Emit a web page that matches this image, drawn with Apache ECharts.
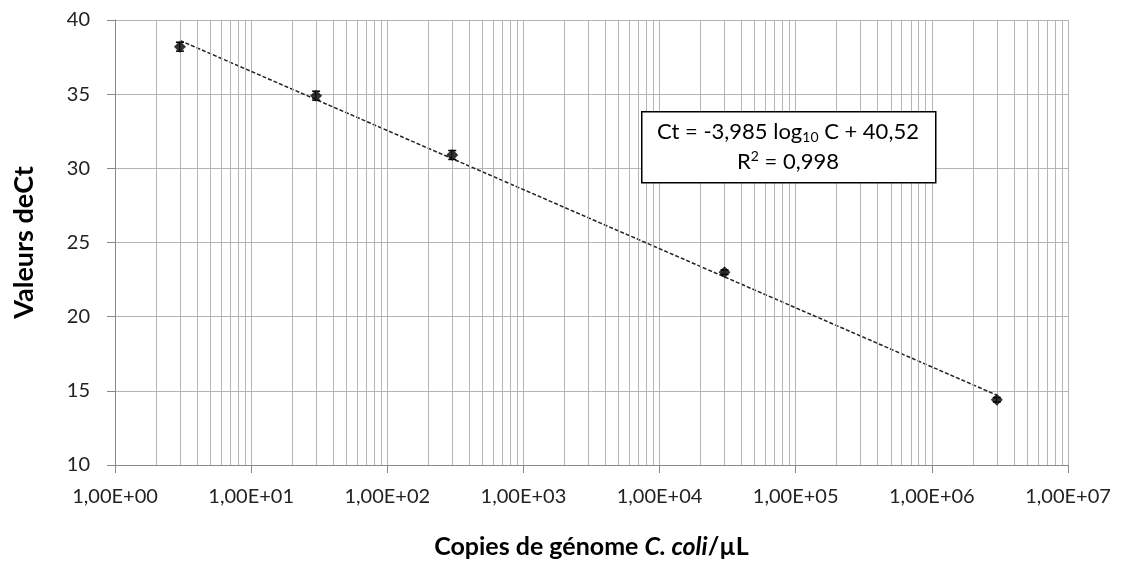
<!DOCTYPE html>
<html>
<head>
<meta charset="utf-8">
<script src="https://cdn.jsdelivr.net/npm/echarts@6/dist/echarts.min.js"></script>
<style>
  html, body { margin: 0; padding: 0; background: #fff; }
  #chart { width: 1122px; height: 566px; }
</style>
</head>
<body>
<div id="chart"></div>
<script>
// données
var copies = [3, 30, 300, 30000, 3000000];
var ctValues = [38.2, 34.9, 30.9, 23.0, 14.4];
var ctErrors = [0.3, 0.3, 0.3, 0.15, 0.15];

// droite de régression (extrémités)
var fitX = [3, 3000000];
var fitY = [38.62, 14.71];

var decades = [1, 10, 100, 1000, 10000, 100000, 1000000];
var minorSteps = [2, 3, 4, 5, 6, 7, 8, 9];

var gridColor = "#b4b4b4";
var fontName = "Lato, 'Open Sans', sans-serif";

function initChart() {
    var myChart = echarts.init(document.getElementById("chart"));

    var pointData = [];
    var errData = [];
    for (var i = 0; i < copies.length; i++) {
        pointData.push([copies[i], ctValues[i]]);
        errData.push([copies[i], ctValues[i] - ctErrors[i], ctValues[i] + ctErrors[i]]);
    }
    var fitData = [];
    for (var j = 0; j < fitX.length; j++) {
        fitData.push([fitX[j], fitY[j]]);
    }
    var minorLines = [];
    decades.forEach(function (d) {
        minorSteps.forEach(function (k) {
            minorLines.push({xAxis: d * k});
        });
    });

    var option = {
        animation: false,
        textStyle: {fontFamily: fontName},
        grid: {
            left: 115,
            right: 54,
            top: 20,
            bottom: 101
        },
        xAxis: {
            type: 'log',
            logBase: 10,
            min: 1,
            max: 10000000,
            interval: 1,
            name: '{b|Copies de génome }{bi|C. coli}{b|/µL}',
            nameLocation: 'middle',
            nameGap: 69,
            nameTextStyle: {
                rich: {
                    b: {fontSize: 25, fontWeight: 'bold', color: '#000', fontFamily: fontName},
                    bi: {fontSize: 25, fontWeight: 'bold', fontStyle: 'italic', color: '#000', fontFamily: fontName}
                }
            },
            axisLine: {lineStyle: {color: '#888', width: 1}},
            axisTick: {show: true, length: 8, lineStyle: {color: '#888'}},
            axisLabel: {
                fontSize: 20,
                color: '#222',
                margin: 22,
                formatter: function (v) {
                    var e = Math.round(Math.log(v) / Math.LN10);
                    return '1,00E+' + (e < 10 ? '0' + e : e);
                }
            },
            splitLine: {show: true, lineStyle: {color: gridColor, width: 1}}
        },
        yAxis: {
            type: 'value',
            min: 10,
            max: 40,
            interval: 5,
            name: 'Valeurs deCt',
            nameLocation: 'middle',
            nameGap: 77,
            nameTextStyle: {fontSize: 27, fontWeight: 'bold', color: '#000'},
            axisLine: {show: true, lineStyle: {color: '#888', width: 1}},
            axisTick: {show: true, length: 8, lineStyle: {color: '#888'}},
            axisLabel: {fontSize: 20, color: '#222', margin: 25},
            splitLine: {show: true, lineStyle: {color: gridColor, width: 1}}
        },
        series: [
            {
                name: 'minor',
                type: 'line',
                data: [],
                silent: true,
                markLine: {
                    silent: true,
                    symbol: 'none',
                    label: {show: false},
                    lineStyle: {color: gridColor, type: 'solid', width: 1},
                    data: minorLines
                },
                z: 1
            },
            {
                name: 'fit',
                type: 'line',
                data: fitData,
                symbol: 'none',
                lineStyle: {color: '#222', type: [4, 2], width: 1.5},
                z: 3
            },
            {
                name: 'err',
                type: 'custom',
                data: errData,
                renderItem: function (params, api) {
                    var x = api.value(0);
                    var lo = api.coord([x, api.value(1)]);
                    var hi = api.coord([x, api.value(2)]);
                    var w = 4;
                    var style = {stroke: '#000', lineWidth: 1.5};
                    return {
                        type: 'group',
                        children: [
                            {type: 'line', shape: {x1: lo[0], y1: lo[1], x2: hi[0], y2: hi[1]}, style: style},
                            {type: 'line', shape: {x1: lo[0] - w, y1: lo[1], x2: lo[0] + w, y2: lo[1]}, style: style},
                            {type: 'line', shape: {x1: hi[0] - w, y1: hi[1], x2: hi[0] + w, y2: hi[1]}, style: style}
                        ]
                    };
                },
                z: 4
            },
            {
                name: 'points',
                type: 'scatter',
                data: pointData,
                symbol: 'diamond',
                symbolSize: [12, 12],
                itemStyle: {color: '#000'},
                z: 5
            }
        ],
        graphic: [
            {
                type: 'rect',
                left: 641,
                top: 111,
                shape: {width: 294, height: 71},
                style: {fill: '#fff', stroke: '#000', lineWidth: 1.5},
                z: 10
            },
            {
                type: 'text',
                x: 788,
                y: 147,
                style: {
                    text: '{m|Ct = -3,985 log}{s|10}{m| C + 40,52}\n{m|R}{p|2}{m| = 0,998}',
                    align: 'center',
                    verticalAlign: 'middle',
                    fill: '#000',
                    rich: {
                        m: {fontSize: 22, lineHeight: 30, fontFamily: fontName, color: '#000'},
                        s: {fontSize: 14, lineHeight: 30, padding: [11, 0, 0, 0], fontFamily: fontName, color: '#000'},
                        p: {fontSize: 14, lineHeight: 30, padding: [0, 0, 11, 0], fontFamily: fontName, color: '#000'}
                    }
                },
                z: 11
            }
        ]
    };

    myChart.setOption(option);
}

initChart();
</script>
</body>
</html>
